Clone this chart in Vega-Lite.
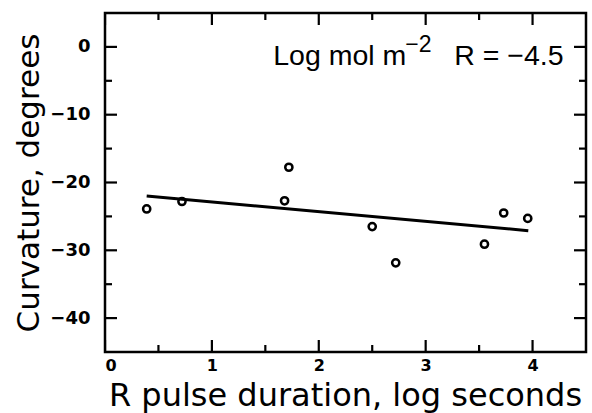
{
  "$schema": "https://vega.github.io/schema/vega-lite/v6.json",
  "width": 481,
  "height": 339,
  "autosize": {"type": "none"},
  "padding": {"left": 105, "top": 13, "right": 6, "bottom": 61},
  "background": "white",
  "config": {
    "view": {"stroke": "black", "strokeWidth": 2.5},
    "axis": {"grid": false, "domain": false, "ticks": false, "labelColor": "black", "titleColor": "black"}
  },
  "datasets": {
    "points": [
      {"duration": 0.39, "curvature": -23.9},
      {"duration": 0.72, "curvature": -22.8},
      {"duration": 1.68, "curvature": -22.7},
      {"duration": 1.72, "curvature": -17.75},
      {"duration": 2.5, "curvature": -26.5},
      {"duration": 2.72, "curvature": -31.85},
      {"duration": 3.55, "curvature": -29.1},
      {"duration": 3.73, "curvature": -24.5},
      {"duration": 3.955, "curvature": -25.3}
    ],
    "fit": [
      {"duration": 0.39, "curvature": -22.0},
      {"duration": 3.96, "curvature": -27.1}
    ],
    "xticks": [
      {"duration": 0, "kind": "major"},
      {"duration": 0.5, "kind": "minor"},
      {"duration": 1, "kind": "major"},
      {"duration": 1.5, "kind": "minor"},
      {"duration": 2, "kind": "major"},
      {"duration": 2.5, "kind": "minor"},
      {"duration": 3, "kind": "major"},
      {"duration": 3.5, "kind": "minor"},
      {"duration": 4, "kind": "major"}
    ],
    "yticks": [
      {"curvature": -40, "kind": "major"},
      {"curvature": -35, "kind": "minor"},
      {"curvature": -30, "kind": "major"},
      {"curvature": -25, "kind": "minor"},
      {"curvature": -20, "kind": "major"},
      {"curvature": -15, "kind": "minor"},
      {"curvature": -10, "kind": "major"},
      {"curvature": -5, "kind": "minor"},
      {"curvature": 0, "kind": "major"}
    ]
  },
  "layer": [
    {
      "data": {"name": "points"},
      "mark": {"type": "point", "shape": "circle", "filled": false, "color": "black", "strokeWidth": 2.5, "size": 52, "opacity": 1},
      "encoding": {
        "x": {"field": "duration", "type": "quantitative", "scale": {"domain": [0, 4.5], "nice": false, "zero": false},
          "axis": {"orient": "bottom", "values": [0, 1, 2, 3, 4], "format": "d", "ticks": false, "labelFont": "DejaVu Sans", "labelFontWeight": "bold", "labelFontSize": 16, "labelPadding": 5, "labelBaseline": "top",
            "title": "R pulse duration, log seconds", "titleFont": "DejaVu Sans", "titleFontWeight": "normal", "titleFontSize": 32, "titleX": 240, "titleY": 53, "titleAlign": "center", "titleBaseline": "alphabetic"}},
        "y": {"field": "curvature", "type": "quantitative", "scale": {"domain": [-45, 5], "nice": false, "zero": false},
          "axis": {"orient": "left", "values": [-40, -30, -20, -10, 0], "format": "d", "ticks": false, "labelFont": "DejaVu Sans", "labelFontWeight": "bold", "labelFontSize": 18, "labelPadding": 15,
            "title": "Curvature, degrees", "titleFont": "DejaVu Sans", "titleFontWeight": "normal", "titleFontSize": 31, "titleAngle": -90, "titleX": -67, "titleY": 169.5, "titleAlign": "center", "titleBaseline": "alphabetic"}}
      }
    },
    {
      "data": {"name": "fit"},
      "mark": {"type": "line", "color": "black", "strokeWidth": 3},
      "encoding": {
        "x": {"field": "duration", "type": "quantitative"},
        "y": {"field": "curvature", "type": "quantitative"}
      }
    },
    {
      "data": {"name": "xticks"},
      "mark": {"type": "tick", "orient": "vertical", "clip": true, "color": "black", "thickness": 2.2, "opacity": 1},
      "encoding": {
        "x": {"field": "duration", "type": "quantitative"},
        "y": {"datum": -45, "type": "quantitative"},
        "size": {"field": "kind", "type": "nominal", "scale": {"domain": ["major", "minor"], "range": [24, 14]}, "legend": null}
      }
    },
    {
      "data": {"name": "xticks"},
      "mark": {"type": "tick", "orient": "vertical", "clip": true, "color": "black", "thickness": 2.2, "opacity": 1},
      "encoding": {
        "x": {"field": "duration", "type": "quantitative"},
        "y": {"datum": 5, "type": "quantitative"},
        "size": {"field": "kind", "type": "nominal", "scale": {"domain": ["major", "minor"], "range": [24, 14]}, "legend": null}
      }
    },
    {
      "data": {"name": "yticks"},
      "mark": {"type": "tick", "orient": "horizontal", "clip": true, "color": "black", "thickness": 2.2, "opacity": 1},
      "encoding": {
        "y": {"field": "curvature", "type": "quantitative"},
        "x": {"datum": 0, "type": "quantitative"},
        "size": {"field": "kind", "type": "nominal", "scale": {"domain": ["major", "minor"], "range": [24, 14]}, "legend": null}
      }
    },
    {
      "data": {"name": "yticks"},
      "mark": {"type": "tick", "orient": "horizontal", "clip": true, "color": "black", "thickness": 2.2, "opacity": 1},
      "encoding": {
        "y": {"field": "curvature", "type": "quantitative"},
        "x": {"datum": 4.5, "type": "quantitative"},
        "size": {"field": "kind", "type": "nominal", "scale": {"domain": ["major", "minor"], "range": [24, 14]}, "legend": null}
      }
    },
    {
      "data": {"values": [{}]},
      "mark": {"type": "text", "text": "Log mol m", "align": "left", "baseline": "alphabetic", "font": "Liberation Sans", "fontSize": 28.5, "color": "black"},
      "encoding": {
        "x": {"datum": 1.574, "type": "quantitative"},
        "y": {"datum": -2.63, "type": "quantitative"}
      }
    },
    {
      "data": {"values": [{}]},
      "mark": {"type": "text", "text": "−2", "align": "left", "baseline": "alphabetic", "font": "Liberation Sans", "fontSize": 23, "color": "black"},
      "encoding": {
        "x": {"datum": 2.81, "type": "quantitative"},
        "y": {"datum": -0.71, "type": "quantitative"}
      }
    },
    {
      "data": {"values": [{}]},
      "mark": {"type": "text", "text": "R = −4.5", "align": "right", "baseline": "alphabetic", "font": "Liberation Sans", "fontSize": 28.5, "color": "black"},
      "encoding": {
        "x": {"datum": 4.29, "type": "quantitative"},
        "y": {"datum": -2.63, "type": "quantitative"}
      }
    }
  ]
}
